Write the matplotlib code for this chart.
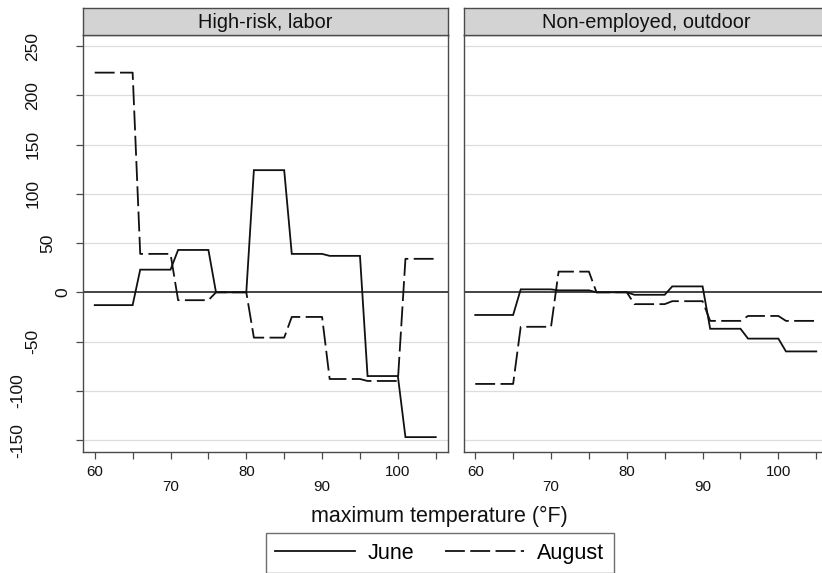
import matplotlib
matplotlib.use('Agg')
import matplotlib.pyplot as plt
import matplotlib.transforms as mtrans
from matplotlib.lines import Line2D

plt.rcParams['font.family'] = ['Liberation Sans', 'DejaVu Sans']

# ---- data ----
temps = [60, 65, 66, 70, 71, 75, 76, 80, 81, 85, 86, 90, 91, 95, 96, 100, 101, 105]
labor_june = [-13, -13, 23, 23, 43, 43, 0, 0, 124, 124, 39, 39, 37, 37, -85, -85, -147, -147]
labor_august = [223, 223, 39, 39, -8, -8, 0, 0, -46, -46, -25, -25, -88, -88, -90, -90, 34, 34]
outdoor_june = [-23, -23, 3, 3, 2, 2, 0, 0, -2.5, -2.5, 6, 6, -37, -37, -47, -47, -60, -60]
outdoor_august = [-93, -93, -35, -35, 21, 21, 0, 0, -12, -12, -9, -9, -29, -29, -24, -24, -29, -29]
panel_titles = ['High-risk, labor', 'Non-employed, outdoor']
series_names = ['June', 'August']
y_ticks = [-150, -100, -50, 0, 50, 100, 150, 200, 250]
x_ticks = [60, 65, 70, 75, 80, 85, 90, 95, 100, 105]
x_labels = ['60', '', '70', '', '80', '', '90', '', '100', '']
panel_data = [(labor_june, labor_august), (outdoor_june, outdoor_august)]

# ---- layout ----
W, H = 822, 573
fig = plt.figure(figsize=(W / 100, H / 100), dpi=100)
fig.patch.set_facecolor('white')


def fx(px):
    return px / W


def fy(py):
    return 1 - py / H


ax_w = 364.5
lefts = [83, 463.5]
top, bottom = 35, 452
strip_top = 7.5
edge_col = '#4a4a4a'
dash = (0, (11, 3))
lw = 1.3

for i, (left, title, (june, aug)) in enumerate(zip(lefts, panel_titles, panel_data)):
    ax = fig.add_axes([fx(left), fy(bottom), ax_w / W, (bottom - top) / H])
    ax.set_xlim(58.45, 106.55)
    ax.set_ylim(-162.1, 261.2)
    ax.set_yticks(y_ticks)
    ax.set_xticks(x_ticks)
    ax.set_xticklabels([])
    for v in y_ticks:
        if v != 0:
            ax.axhline(v, color='#dddddd', lw=0.9, zorder=0.5)
    ax.axhline(0, color='#111111', lw=1.1, zorder=1)
    ax.plot(temps, june, color='#111111', lw=lw, solid_joinstyle='miter', zorder=3)
    ax.plot(temps, aug, color='#111111', lw=lw, ls=dash, zorder=3)
    for s in ax.spines.values():
        s.set_color(edge_col)
        s.set_linewidth(1.0)
    ax.tick_params(axis='x', direction='out', length=5, width=0.9, color=edge_col)
    if i == 0:
        ax.tick_params(axis='y', direction='out', length=5, width=0.9, color=edge_col,
                       labelleft=False)
        tr = mtrans.blended_transform_factory(fig.transFigure, ax.transData)
        for v in y_ticks:
            lab = str(v)
            cx = 62.5 - 14.8 * (len(lab) - 1)
            fig.text(fx(cx), v, lab, transform=tr, rotation=90, ha='center', va='center',
                     fontsize=12.5, color='#111111')
    else:
        ax.tick_params(axis='y', length=0, labelleft=False)
    # staggered x labels
    row = 0
    for xv, lab in zip(x_ticks, x_labels):
        if not lab:
            continue
        off = -20 if row % 2 == 0 else -35
        tr = mtrans.offset_copy(ax.get_xaxis_transform(), fig=fig, x=0, y=off, units='dots')
        ax.text(xv, 0, lab, transform=tr, ha='center', va='center', fontsize=10.8,
                color='#111111', clip_on=False)
        row += 1
    # strip
    sax = fig.add_axes([fx(left), fy(top), ax_w / W, (top - strip_top) / H])
    sax.set_facecolor('#d3d3d3')
    sax.set_xticks([])
    sax.set_yticks([])
    for s in sax.spines.values():
        s.set_color(edge_col)
        s.set_linewidth(1.0)
    sax.text(0.5, 0.47, title, transform=sax.transAxes, ha='center', va='center',
             fontsize=14.3, color='#111111')

fig.text(fx(439), fy(516), 'maximum temperature (°F)', ha='center', va='center',
         fontsize=15.5, color='#111111')

handles = [Line2D([], [], color='#111111', lw=lw),
           Line2D([], [], color='#111111', lw=lw, ls=dash)]
leg = fig.legend(handles, series_names, loc='upper center',
                 bbox_to_anchor=(fx(440), fy(533)), ncol=2, frameon=True,
                 fancybox=False, edgecolor=edge_col, fontsize=15.5,
                 handlelength=3.7, handletextpad=0.6, columnspacing=1.4,
                 borderpad=0.45, borderaxespad=0)
leg.get_frame().set_linewidth(1.0)

fig.savefig('out.png', dpi=100, facecolor='white')
